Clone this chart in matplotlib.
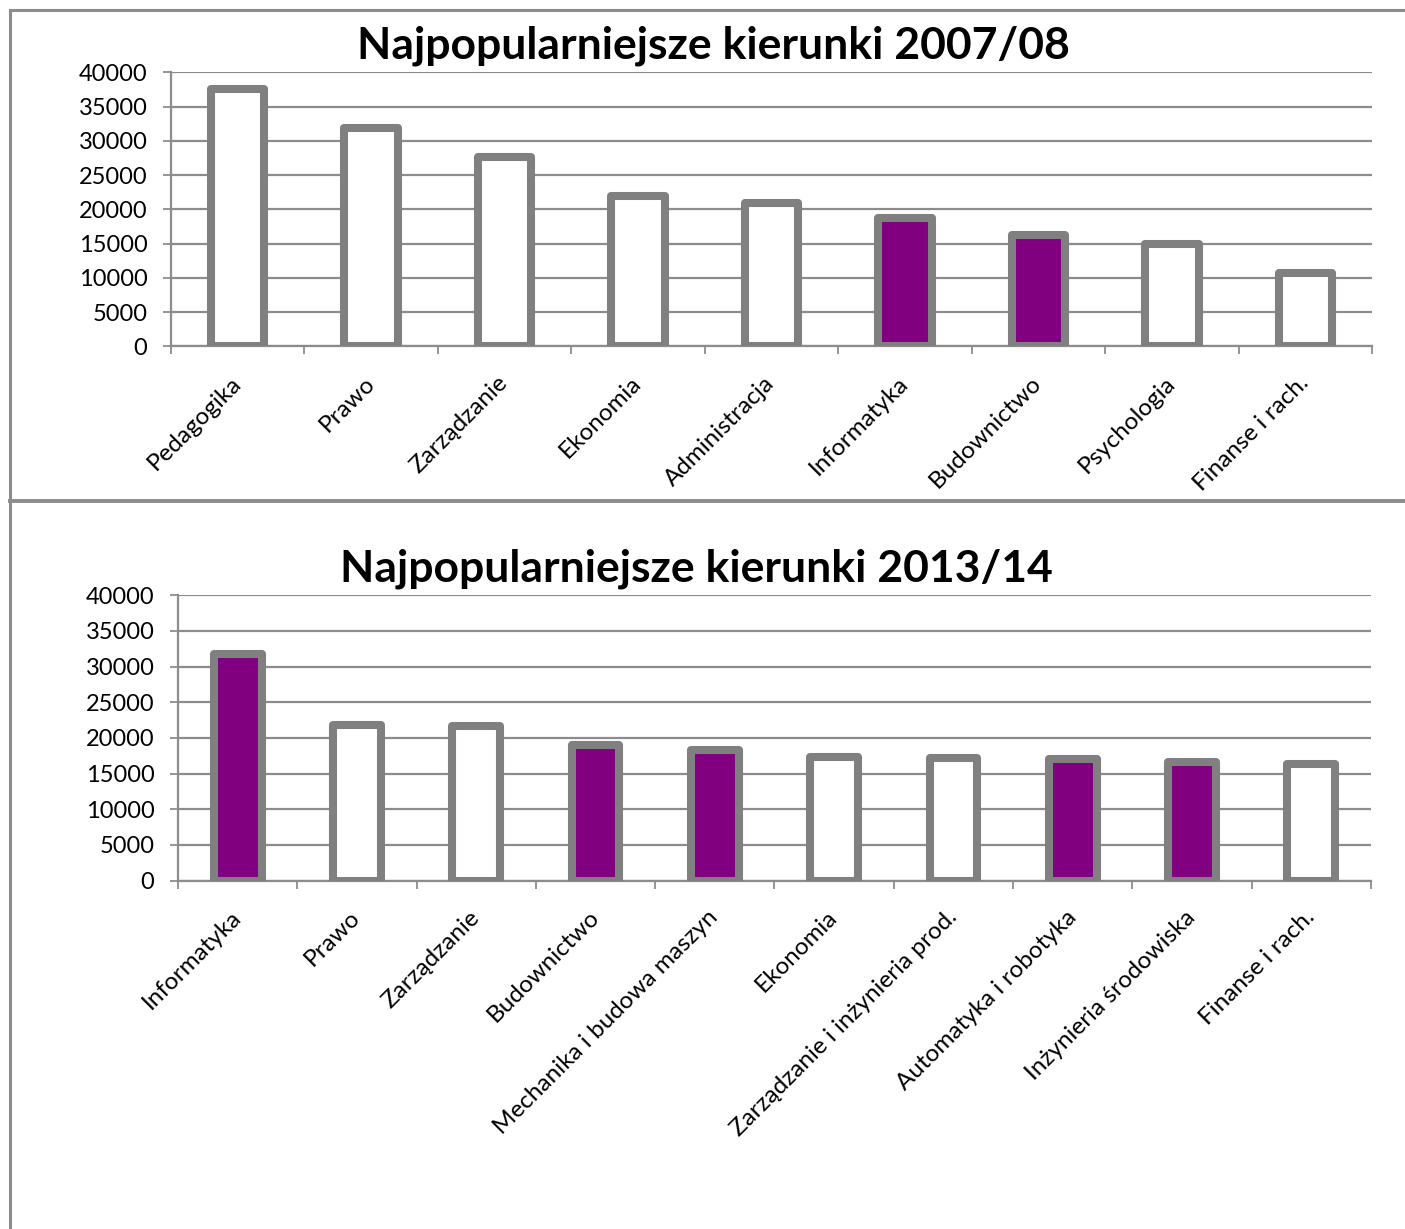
import matplotlib
matplotlib.use("Agg")
import matplotlib.pyplot as plt
from matplotlib.lines import Line2D
import numpy as np

plt.rcParams['font.family'] = ['Lato', 'DejaVu Sans']

# ---- data ----
title_top = "Najpopularniejsze kierunki 2007/08"
cats_top = ["Pedagogika", "Prawo", "Zarządzanie", "Ekonomia", "Administracja",
            "Informatyka", "Budownictwo", "Psychologia", "Finanse i rach."]
vals_top = [37500, 31800, 27700, 22000, 20900, 18800, 16200, 14900, 10700]
hl_top = ["Informatyka", "Budownictwo"]

title_bot = "Najpopularniejsze kierunki 2013/14"
cats_bot = ["Informatyka", "Prawo", "Zarządzanie", "Budownictwo",
            "Mechanika i budowa maszyn", "Ekonomia", "Zarządzanie i inżynieria prod.",
            "Automatyka i robotyka", "Inżynieria środowiska", "Finanse i rach."]
vals_bot = [31700, 21800, 21600, 19000, 18300, 17350, 17250, 17100, 16650, 16300]
hl_bot = ["Informatyka", "Budownictwo", "Mechanika i budowa maszyn",
          "Automatyka i robotyka", "Inżynieria środowiska"]

yticks = [0, 5000, 10000, 15000, 20000, 25000, 30000, 35000, 40000]

GRAY = "#808080"
GRID = "#8c8c8c"
PURPLE = "#800080"

W, H = 1405, 1229
fig = plt.figure(figsize=(W / 100, H / 100), dpi=100)

def px2fig(x0, y0, x1, y1):
    return [x0 / W, 1 - y1 / H, (x1 - x0) / W, (y1 - y0) / H]

def draw(ax, cats, vals, hl, title, tx, ty):
    n = len(cats)
    x = np.arange(n)
    colors = [PURPLE if c in hl else "white" for c in cats]
    ax.bar(x, vals, width=0.4, color=colors, edgecolor=GRAY, linewidth=5.8,
           joinstyle='round', zorder=3)
    ax.set_xlim(-0.5, n - 0.5)
    ax.set_ylim(0, 40000)
    ax.set_yticks(yticks)
    ax.set_yticklabels([str(v) for v in yticks], fontsize=17)
    ax.yaxis.grid(True, color=GRID, linewidth=1.6, zorder=0)
    ax.set_axisbelow(True)
    for s in ["top", "right"]:
        ax.spines[s].set_visible(False)
    for s in ["left", "bottom"]:
        ax.spines[s].set_color(GRID)
        ax.spines[s].set_linewidth(1.6)
    ax.tick_params(axis='y', length=6, width=1.3, color=GRID, pad=11)
    ax.set_xticks(x)
    ax.set_xticklabels(cats, fontsize=17.5, rotation=45, ha='right', va='center',
                       rotation_mode='anchor')
    ax.tick_params(axis='x', which='major', length=0, pad=24)
    ax.set_xticks(np.arange(n + 1) - 0.5, minor=True)
    ax.tick_params(axis='x', which='minor', length=6, width=1.3, color=GRID)
    fig.text(tx / W, 1 - ty / H, title, ha='center', va='center',
             fontsize=32, fontweight='bold')

ax1 = fig.add_axes(px2fig(171, 72.3, 1372, 346.3))
draw(ax1, cats_top, vals_top, hl_top, title_top, 713.5, 46)

ax2 = fig.add_axes(px2fig(178, 595.3, 1371, 880.5))
draw(ax2, cats_bot, vals_bot, hl_bot, title_bot, 696.5, 569)

# frame lines
lw = 2.2
fig.add_artist(Line2D([10 / W, 1], [1 - 10 / H, 1 - 10 / H], color="#8c8c8c", lw=lw))
fig.add_artist(Line2D([10 / W, 10 / W], [0, 1 - 10 / H], color="#8c8c8c", lw=lw))
fig.add_artist(Line2D([10 / W, 1], [1 - 501 / H, 1 - 501 / H], color="#8c8c8c", lw=2.8))

fig.savefig("out.png", dpi=100, facecolor="white")
